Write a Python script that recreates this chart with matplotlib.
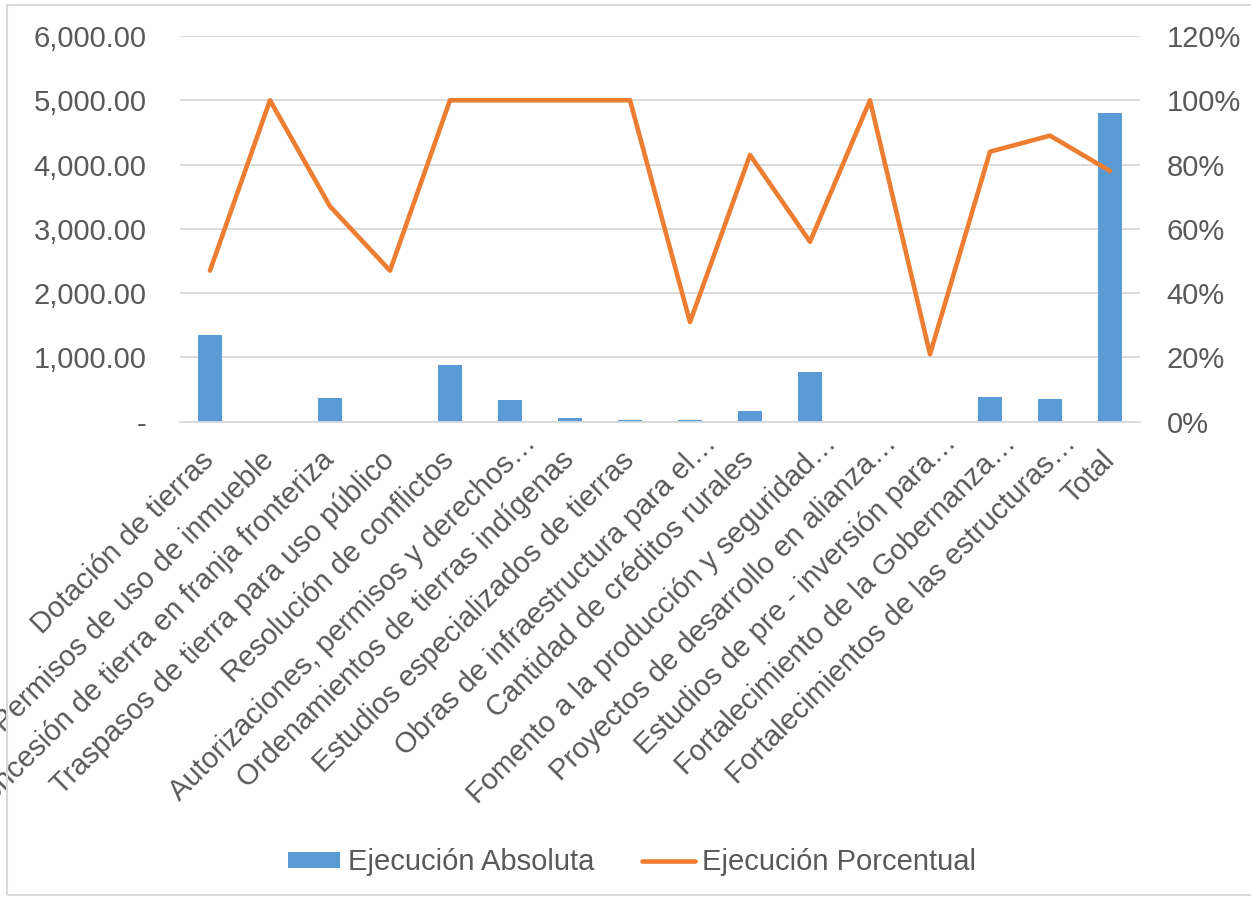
import matplotlib
matplotlib.use("Agg")
import matplotlib.pyplot as plt
import matplotlib.transforms as mtransforms
from matplotlib.patches import Patch, Rectangle
from matplotlib.lines import Line2D
from matplotlib.ticker import FuncFormatter

# categorías del programa
categorias = [
    "Dotación de tierras",
    "Permisos de uso de inmueble",
    "Concesión de tierra en franja fronteriza",
    "Traspasos de tierra para uso público",
    "Resolución de conflictos",
    "Autorizaciones, permisos y derechos…",
    "Ordenamientos de tierras indígenas",
    "Estudios especializados de tierras",
    "Obras de infraestructura para el…",
    "Cantidad de créditos rurales",
    "Fomento a la producción y seguridad…",
    "Proyectos de desarrollo en alianza…",
    "Estudios de pre - inversión para…",
    "Fortalecimiento de la Gobernanza…",
    "Fortalecimientos de las estructuras…",
    "Total",
]

# ejecución absoluta (eje izquierdo)
absoluta = [1350, 0, 370, 0, 880, 330, 55, 30, 30, 170, 780, 0, 0, 390, 355, 4800]

# ejecución porcentual (eje derecho)
porcentual = [0.47, 1.00, 0.67, 0.47, 1.00, 1.00, 1.00, 1.00, 0.31, 0.83,
              0.56, 1.00, 0.21, 0.84, 0.89, 0.78]

azul = "#5B9BD5"
naranja = "#ED7D31"
gris = "#595959"
rejilla = "#D9D9D9"

plt.rcParams["font.family"] = ["Liberation Sans", "DejaVu Sans"]

fig = plt.figure(figsize=(12.51, 8.98), dpi=100)
ax = fig.add_axes([180 / 1251, 1 - 421.7 / 898, 960 / 1251, (421.7 - 36) / 898])
ax2 = ax.twinx()

x = list(range(len(categorias)))
ax.bar(x, absoluta, width=0.4, color=azul, zorder=2)
ax2.plot(x, porcentual, color=naranja, lw=3.3, solid_joinstyle="round",
         solid_capstyle="round", zorder=3)

ax.set_xlim(-0.5, len(categorias) - 0.5)
ax.set_ylim(0, 6000)
ax2.set_ylim(0, 1.2)
ax.set_yticks(range(0, 6001, 1000))
ax2.set_yticks([0, 0.2, 0.4, 0.6, 0.8, 1.0, 1.2])

ax.yaxis.set_major_formatter(FuncFormatter(lambda v, p: "-" if v == 0 else f"{v:,.2f}"))
ax2.yaxis.set_major_formatter(FuncFormatter(lambda v, p: f"{v * 100:.0f}%"))

ax.grid(axis="y", color=rejilla, lw=1.3, zorder=0)
ax.set_axisbelow(True)
for a in (ax, ax2):
    for s in a.spines.values():
        s.set_visible(False)
ax.spines["bottom"].set_visible(True)
ax.spines["bottom"].set_color(rejilla)
ax.spines["bottom"].set_linewidth(1.3)

ax.tick_params(axis="y", length=0, pad=24, labelsize=21, labelcolor=gris)
ax2.tick_params(axis="y", length=0, pad=19, labelsize=21, labelcolor=gris)
ax.tick_params(axis="x", length=0, pad=8, labelsize=21, labelcolor=gris)

ax.set_xticks(x)
ax.set_xticklabels(categorias, rotation=45, ha="right", rotation_mode="anchor")

# desplazar las etiquetas un poco hacia abajo e izquierda;
# las recortadas con "…" sobresalen un poco más hacia arriba
desplazamiento = mtransforms.ScaledTranslation(-10 / 100, -13 / 100, fig.dpi_scale_trans)
extra_recorte = mtransforms.ScaledTranslation(22 / 100, 17 / 100, fig.dpi_scale_trans)
for etiqueta in ax.get_xticklabels():
    t = etiqueta.get_transform() + desplazamiento
    if etiqueta.get_text().endswith("…"):
        t = t + extra_recorte
    etiqueta.set_transform(t)

handles = [
    Patch(facecolor=azul, label="Ejecución Absoluta"),
    Line2D([0], [0], color=naranja, lw=3.3, solid_capstyle="round",
           label="Ejecución Porcentual"),
]
fig.legend(handles=handles, loc="center", bbox_to_anchor=(0.505, 0.040), ncol=2,
           frameon=False, fontsize=21, labelcolor=gris, handlelength=1.8,
           handleheight=0.45, handletextpad=0.25, columnspacing=1.65)

# marco exterior del gráfico
fig.patches.append(Rectangle((7 / 1251, 1 - 895 / 898), 1.2, 890 / 898,
                             transform=fig.transFigure, fill=False,
                             edgecolor=rejilla, lw=1.5))

fig.savefig("out.png", dpi=100)
